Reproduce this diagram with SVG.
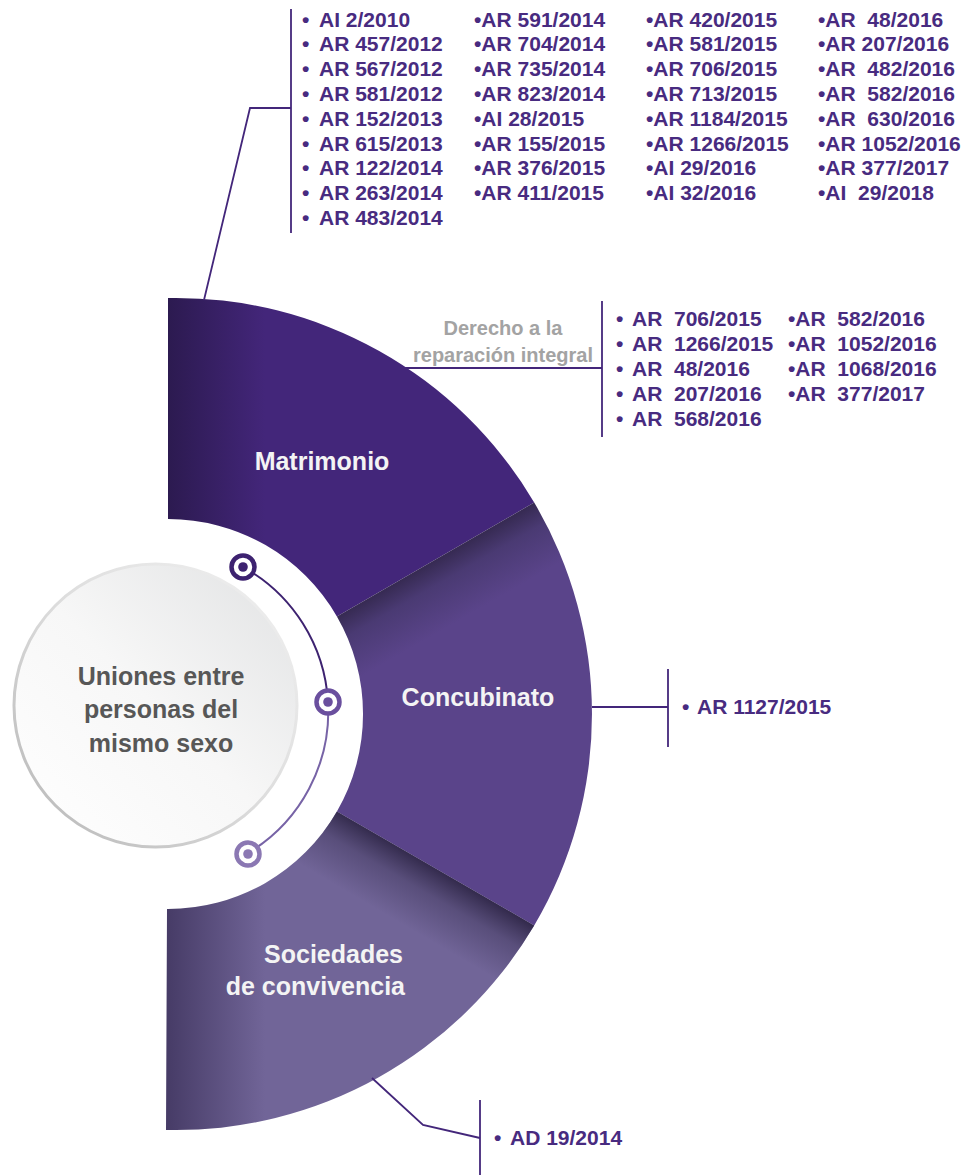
<svg xmlns="http://www.w3.org/2000/svg" width="968" height="1175" viewBox="0 0 968 1175">
<defs>
<style>
.lst{font-family:"Liberation Sans",Arial,sans-serif;font-weight:bold;font-size:21px;fill:#482b80}
.seg{font-family:"Liberation Sans",Arial,sans-serif;font-weight:bold;font-size:25px;fill:#f4f4f4;text-anchor:middle}
.ctr{font-family:"Liberation Sans",Arial,sans-serif;font-weight:bold;font-size:25px;fill:#575757;text-anchor:middle}
.lbl{font-family:"Liberation Sans",Arial,sans-serif;font-weight:bold;font-size:20px;fill:#a3a3a3;text-anchor:middle}
.conn{fill:none;stroke:#43267a;stroke-width:1.8}
</style>
<linearGradient id="gMat" gradientUnits="userSpaceOnUse" x1="168" y1="0" x2="265" y2="0">
<stop offset="0" stop-color="#2c1a50"/><stop offset="1" stop-color="#43267a"/>
</linearGradient>
<linearGradient id="gCon" gradientUnits="userSpaceOnUse" x1="427.8" y1="564" x2="460" y2="620">
<stop offset="0" stop-color="#362a52"/><stop offset="0.35" stop-color="#4a3a73"/><stop offset="1" stop-color="#5a448a"/>
</linearGradient>
<linearGradient id="gSoc" gradientUnits="userSpaceOnUse" x1="166" y1="0" x2="265" y2="0">
<stop offset="0" stop-color="#463b66"/><stop offset="1" stop-color="#716598"/>
</linearGradient>
<linearGradient id="gSocSh" gradientUnits="userSpaceOnUse" x1="427.8" y1="864" x2="395" y2="920">
<stop offset="0" stop-color="#241c3a" stop-opacity="0.8"/><stop offset="0.4" stop-color="#2c2445" stop-opacity="0.35"/><stop offset="1" stop-color="#2c2445" stop-opacity="0"/>
</linearGradient>
<linearGradient id="gCirc" x1="0" y1="1" x2="1" y2="0">
<stop offset="0" stop-color="#ffffff"/><stop offset="0.5" stop-color="#f7f7f7"/><stop offset="1" stop-color="#e1e2e3"/>
</linearGradient>
<linearGradient id="gRim" x1="0" y1="1" x2="1" y2="0">
<stop offset="0" stop-color="#b5b5b5"/><stop offset="0.5" stop-color="#dcdcdc"/><stop offset="1" stop-color="#f2f2f2"/>
</linearGradient>
</defs>
<rect width="968" height="1175" fill="#ffffff"/>

<g id="matrimonio">
<path d="M168,298 A416,416 0 0 1 534.2,502.5 L336.9,616.5 A195,195 0 0 0 168,519 Z" fill="url(#gMat)"/>
<text class="seg" x="322" y="470">Matrimonio</text>
</g>
<g id="concubinato">
<path d="M534.2,502.5 A416,416 0 0 1 534.2,925.5 L336.9,811.5 A195,195 0 0 0 336.9,616.5 Z" fill="url(#gCon)"/>
<text class="seg" x="478" y="706">Concubinato</text>
</g>
<g id="sociedades">
<path d="M534.2,925.5 A416,416 0 0 1 166,1130 L167,909 A195,195 0 0 0 336.9,811.5 Z" fill="url(#gSoc)"/>
<path d="M534.2,925.5 A416,416 0 0 1 166,1130 L167,909 A195,195 0 0 0 336.9,811.5 Z" fill="url(#gSocSh)"/>
<text class="seg" x="403" y="963" style="text-anchor:end">Sociedades</text>
<text class="seg" x="405" y="995" style="text-anchor:end">de convivencia</text>
</g>

<g id="centro">
<circle cx="155.5" cy="705.5" r="141.5" fill="url(#gCirc)" stroke="url(#gRim)" stroke-width="3"/>
<text class="ctr" x="161" y="685">Uniones entre</text>
<text class="ctr" x="161" y="718">personas del</text>
<text class="ctr" x="161" y="752">mismo sexo</text>
</g>

<g id="marcadores">
<path d="M243,567 A165,165 0 0 1 328,702" fill="none" stroke="#3d2270" stroke-width="2"/>
<path d="M328,702 A165,165 0 0 1 248,853" fill="none" stroke="#7763a6" stroke-width="2"/>
<circle cx="243" cy="567" r="11.5" fill="#ffffff" stroke="#3d2270" stroke-width="4.5"/>
<circle cx="243" cy="567" r="4.8" fill="#3d2270"/>
<circle cx="328" cy="702" r="11.5" fill="#ffffff" stroke="#6a4f9e" stroke-width="4.5"/>
<circle cx="328" cy="702" r="4.8" fill="#6a4f9e"/>
<circle cx="248" cy="854" r="11.5" fill="#ffffff" stroke="#8b78b3" stroke-width="4.5"/>
<circle cx="248" cy="854" r="4.8" fill="#8b78b3"/>
</g>

<g id="connectors">
<polyline class="conn" points="204,300 250,108 291,108"/>
<line class="conn" x1="291" y1="9" x2="291" y2="233"/>
<line class="conn" x1="403" y1="368" x2="602" y2="368"/>
<line class="conn" x1="602" y1="301" x2="602" y2="437"/>
<line class="conn" x1="592" y1="707" x2="668" y2="707"/>
<line class="conn" x1="668" y1="669" x2="668" y2="747"/>
<polyline class="conn" points="372,1078 423,1125 480,1138"/>
<line class="conn" x1="480" y1="1100" x2="480" y2="1175"/>
</g>

<g id="lista-matrimonio">
<text class="lst" y="26.5"><tspan x="302">•</tspan><tspan x="319">AI 2/2010</tspan></text>
<text class="lst" y="51.3"><tspan x="302">•</tspan><tspan x="319">AR 457/2012</tspan></text>
<text class="lst" y="76.1"><tspan x="302">•</tspan><tspan x="319">AR 567/2012</tspan></text>
<text class="lst" y="100.9"><tspan x="302">•</tspan><tspan x="319">AR 581/2012</tspan></text>
<text class="lst" y="125.7"><tspan x="302">•</tspan><tspan x="319">AR 152/2013</tspan></text>
<text class="lst" y="150.5"><tspan x="302">•</tspan><tspan x="319">AR 615/2013</tspan></text>
<text class="lst" y="175.3"><tspan x="302">•</tspan><tspan x="319">AR 122/2014</tspan></text>
<text class="lst" y="200.1"><tspan x="302">•</tspan><tspan x="319">AR 263/2014</tspan></text>
<text class="lst" y="224.9"><tspan x="302">•</tspan><tspan x="319">AR 483/2014</tspan></text>

<text class="lst" x="474" y="26.5">•AR 591/2014</text>
<text class="lst" x="474" y="51.3">•AR 704/2014</text>
<text class="lst" x="474" y="76.1">•AR 735/2014</text>
<text class="lst" x="474" y="100.9">•AR 823/2014</text>
<text class="lst" x="474" y="125.7">•AI 28/2015</text>
<text class="lst" x="474" y="150.5">•AR 155/2015</text>
<text class="lst" x="474" y="175.3">•AR 376/2015</text>
<text class="lst" x="474" y="200.1">•AR 411/2015</text>

<text class="lst" x="646" y="26.5">•AR 420/2015</text>
<text class="lst" x="646" y="51.3">•AR 581/2015</text>
<text class="lst" x="646" y="76.1">•AR 706/2015</text>
<text class="lst" x="646" y="100.9">•AR 713/2015</text>
<text class="lst" x="646" y="125.7">•AR 1184/2015</text>
<text class="lst" x="646" y="150.5">•AR 1266/2015</text>
<text class="lst" x="646" y="175.3">•AI 29/2016</text>
<text class="lst" x="646" y="200.1">•AI 32/2016</text>

<text class="lst" x="818" y="26.5" xml:space="preserve">•AR  48/2016</text>
<text class="lst" x="818" y="51.3">•AR 207/2016</text>
<text class="lst" x="818" y="76.1" xml:space="preserve">•AR  482/2016</text>
<text class="lst" x="818" y="100.9" xml:space="preserve">•AR  582/2016</text>
<text class="lst" x="818" y="125.7" xml:space="preserve">•AR  630/2016</text>
<text class="lst" x="818" y="150.5">•AR 1052/2016</text>
<text class="lst" x="818" y="175.3">•AR 377/2017</text>
<text class="lst" x="818" y="200.1" xml:space="preserve">•AI  29/2018</text>
</g>

<g id="reparacion">
<text class="lbl" x="503" y="335">Derecho a la</text>
<text class="lbl" x="503" y="362">reparación integral</text>
<text class="lst" y="325.5" xml:space="preserve"><tspan x="616">•</tspan><tspan x="632">AR  706/2015</tspan></text>
<text class="lst" y="350.5" xml:space="preserve"><tspan x="616">•</tspan><tspan x="632">AR  1266/2015</tspan></text>
<text class="lst" y="375.5" xml:space="preserve"><tspan x="616">•</tspan><tspan x="632">AR  48/2016</tspan></text>
<text class="lst" y="400.5" xml:space="preserve"><tspan x="616">•</tspan><tspan x="632">AR  207/2016</tspan></text>
<text class="lst" y="425.5" xml:space="preserve"><tspan x="616">•</tspan><tspan x="632">AR  568/2016</tspan></text>
<text class="lst" x="788" y="325.5" xml:space="preserve">•AR  582/2016</text>
<text class="lst" x="788" y="350.5" xml:space="preserve">•AR  1052/2016</text>
<text class="lst" x="788" y="375.5" xml:space="preserve">•AR  1068/2016</text>
<text class="lst" x="788" y="400.5" xml:space="preserve">•AR  377/2017</text>
</g>

<g id="lista-concubinato">
<text class="lst" y="714"><tspan x="682">•</tspan><tspan x="697">AR 1127/2015</tspan></text>
</g>

<g id="lista-sociedades">
<text class="lst" y="1145"><tspan x="494">•</tspan><tspan x="510">AD 19/2014</tspan></text>
</g>
</svg>
